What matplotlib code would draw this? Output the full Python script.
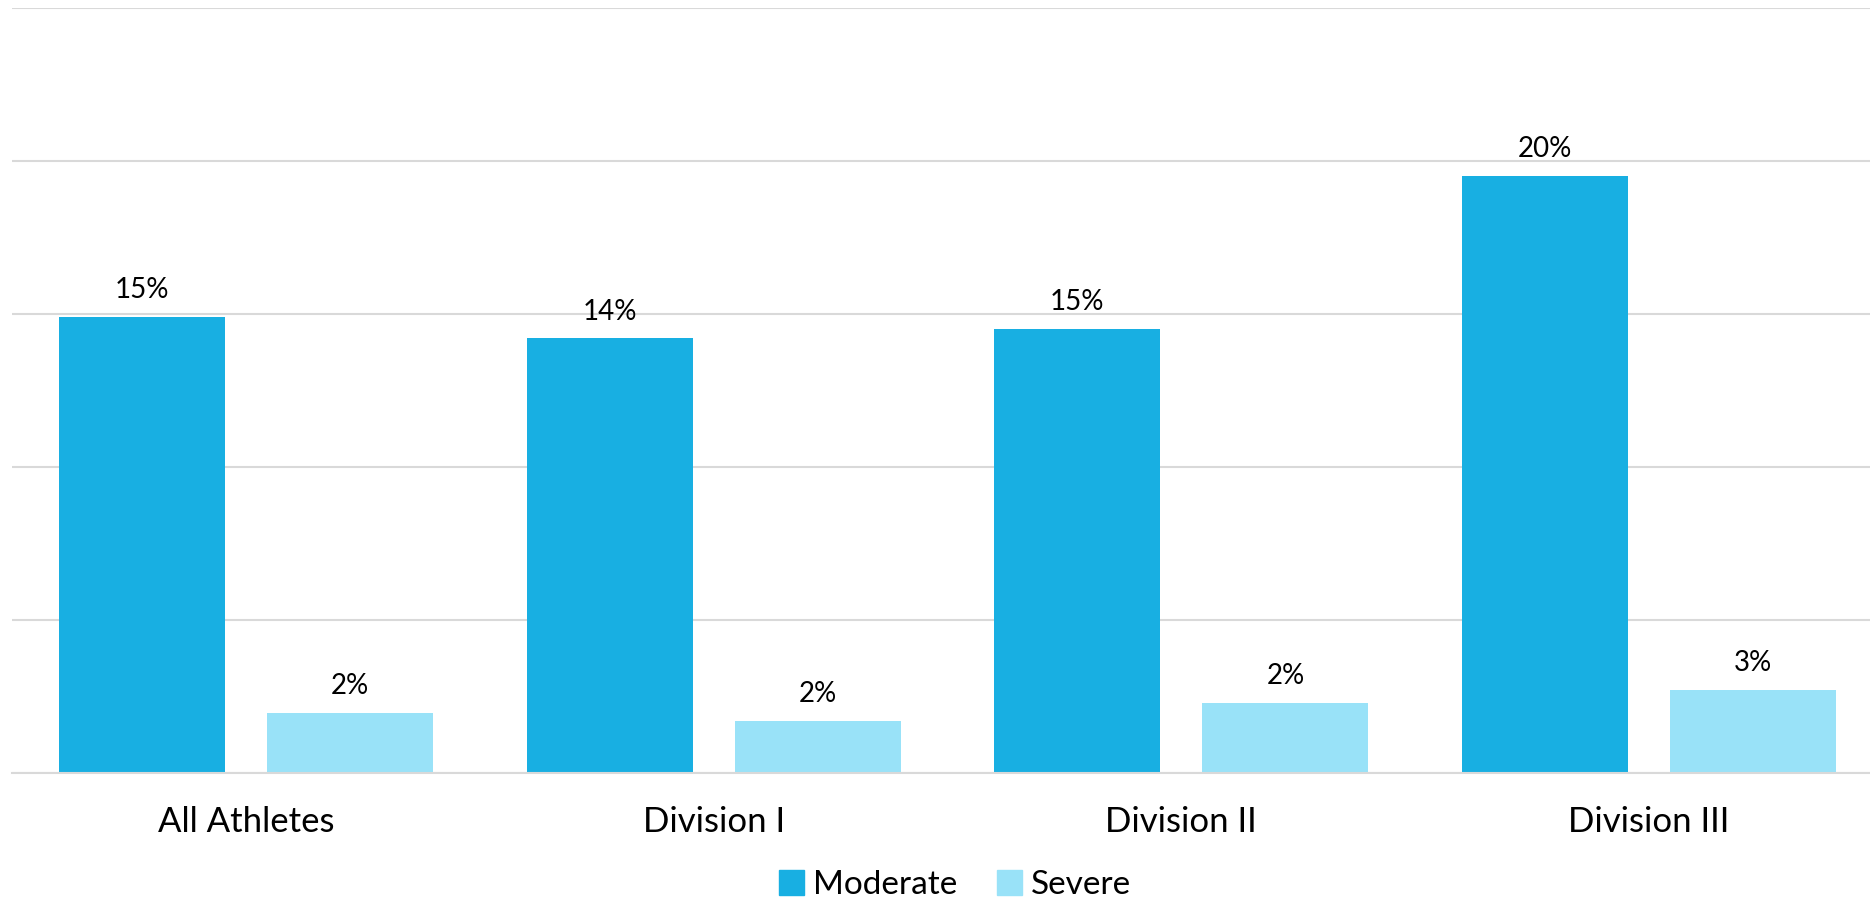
import numpy as np
import matplotlib.pyplot as plt
from matplotlib.patches import Patch

# data (percent)
categories = ["All Athletes", "Division I", "Division II", "Division III"]
moderate = [14.9, 14.2, 14.52, 19.5]
severe = [1.95, 1.7, 2.3, 2.7]
series_names = ["Moderate", "Severe"]
colors = ["#18AFE2", "#99E2F8"]

plt.rcParams['font.family'] = ['Lato', 'DejaVu Sans']

fig = plt.figure(figsize=(18.7, 9), dpi=100)
ax = fig.add_axes([12 / 1870, 127 / 900, 1871 / 1870, 765 / 900])

x = np.arange(len(categories))
w = 0.355
off = 0.2225
b1 = ax.bar(x - off, moderate, w, color=colors[0], zorder=2)
b2 = ax.bar(x + off, severe, w, color=colors[1], zorder=2)

for bars, vals in [(b1, moderate), (b2, severe)]:
    for bar, v in zip(bars, vals):
        ax.annotate(f"{round(v)}%", (bar.get_x() + bar.get_width() / 2, v),
                    xytext=(0, 10), textcoords="offset points",
                    ha="center", va="bottom", fontsize=20, color="black")

ax.set_xlim(-0.5, len(categories) - 0.5)
ax.set_ylim(0, 25)
ax.set_yticks(np.arange(0, 26, 5))
ax.yaxis.grid(True, color="#D9D9D9", linewidth=1.5, zorder=0)
ax.set_yticklabels([])
ax.tick_params(axis="y", length=0)
ax.set_xticks(x)
ax.set_xticklabels(categories, fontsize=25)
ax.tick_params(axis="x", length=0, pad=24)
for s in ["top", "right", "left"]:
    ax.spines[s].set_visible(False)
ax.spines["bottom"].set_color("#D9D9D9")
ax.spines["bottom"].set_linewidth(1.5)

handles = [Patch(color=c, label=n) for c, n in zip(colors, series_names)]
fig.legend(handles=handles, loc="center", bbox_to_anchor=(955 / 1870, 1 - 885 / 900),
           ncol=2, frameon=False, fontsize=24, handlelength=0.75, handleheight=0.75,
           handletextpad=0.25, columnspacing=1.2)

fig.savefig("out.png", dpi=100)
